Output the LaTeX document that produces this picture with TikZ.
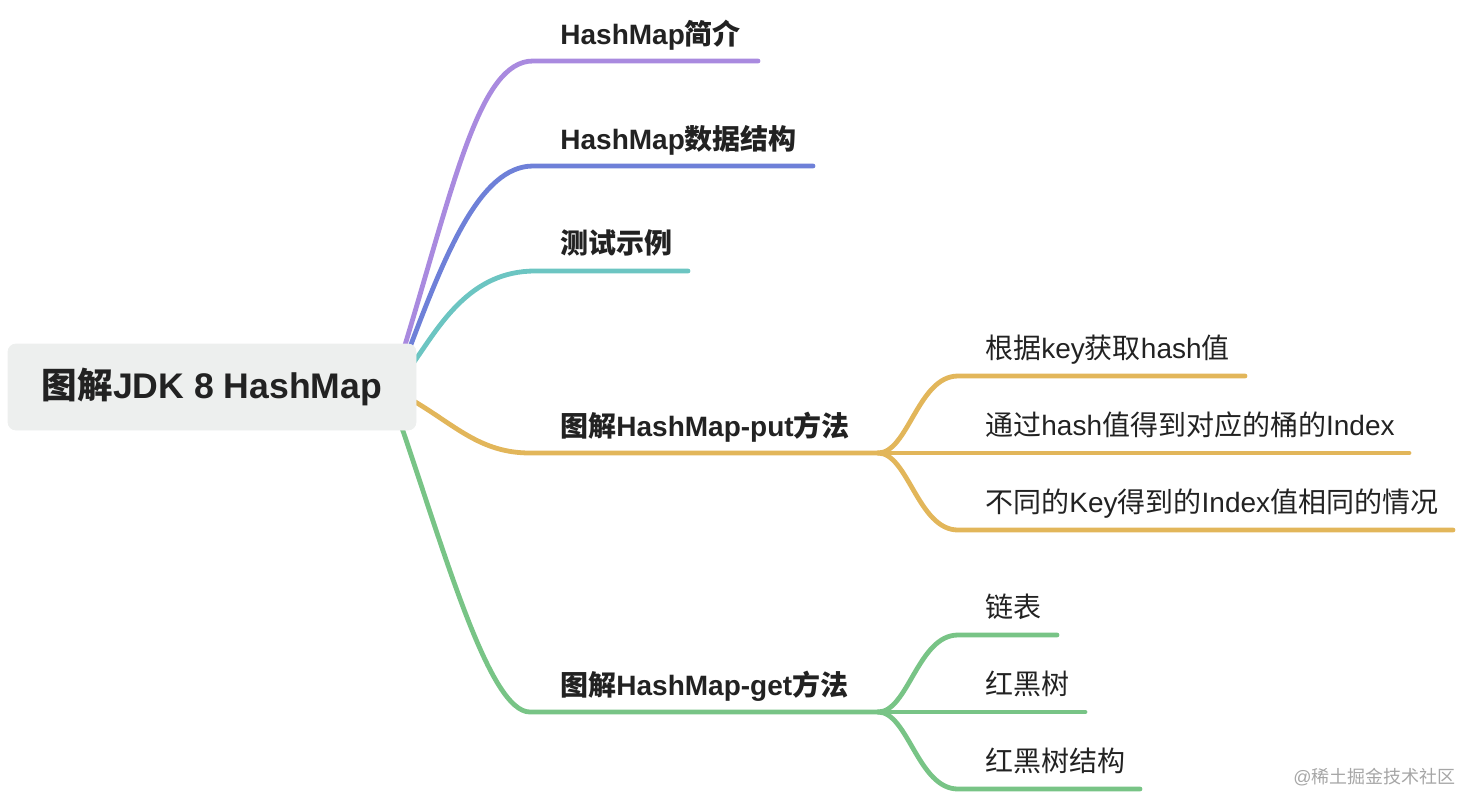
\documentclass[tikz,border=0pt]{standalone}
\usepackage{fontspec}
\setmainfont{Liberation Sans}
\newfontfamily\cjk{Noto Sans CJK SC}
\usepackage{tikz}
\usetikzlibrary{positioning}
\definecolor{lilac}{HTML}{A98ADF}
\definecolor{indigo}{HTML}{6E80D8}
\definecolor{aqua}{HTML}{6CC5C2}
\definecolor{gold}{HTML}{E2B65A}
\definecolor{leaf}{HTML}{78C486}
\definecolor{ink}{HTML}{222222}
\definecolor{rootfill}{HTML}{EDEFEE}
\newcommand{\zh}[1]{{\cjk #1}}

\begin{document}
\begin{tikzpicture}[x=0.5pt,y=-0.5pt,
    branch/.style={line width=2.4pt, line cap=round},
    topic/.style={anchor=base west, inner sep=0pt, text=ink, font=\fontsize{14}{16}\selectfont\bfseries},
    subtopic/.style={anchor=base west, inner sep=0pt, text=ink, font=\fontsize{14}{16}\selectfont}]
    \useasboundingbox (0,0) rectangle (1460,794);

    \coordinate (r1) at (405,345);
    \coordinate (r2) at (410,347);
    \coordinate (r3) at (414,362);
    \coordinate (r4) at (412,400);
    \coordinate (r5) at (402,428);

    \coordinate (b1s) at (533,61);   \coordinate (b1e) at (758,61);
    \coordinate (b2s) at (533,166);  \coordinate (b2e) at (813,166);
    \coordinate (b3s) at (535,271);  \coordinate (b3e) at (688,271);
    \coordinate (b4s) at (530,453);  \coordinate (put) at (878,453);
    \coordinate (b5s) at (530,712);  \coordinate (get) at (878,712);

    \draw[branch, lilac] (r1) .. controls (455,180) and (480,61) .. (b1s) -- (b1e);
    \draw[branch, indigo] (r2) .. controls (445,255) and (480,166) .. (b2s) -- (b2e);
    \draw[branch, aqua] (r3) .. controls (440,325) and (470,271) .. (b3s) -- (b3e);
    \draw[branch, gold] (r4) .. controls (455,425) and (480,453) .. (b4s) -- (put);
    \draw[branch, leaf] (r5) .. controls (447,560) and (490,712) .. (b5s) -- (get);

    \coordinate (p1s) at (958,376); \coordinate (p1e) at (1245,376);
    \coordinate (p2e) at (1409,453);
    \coordinate (p3s) at (958,530); \coordinate (p3e) at (1453,530);
    \draw[branch, gold] (put) .. controls +(30,0) and +(-40,0) .. (p1s) -- (p1e);
    \draw[branch, gold] (put) -- (p2e);
    \draw[branch, gold] (put) .. controls +(30,0) and +(-40,0) .. (p3s) -- (p3e);

    \coordinate (g1s) at (958,635); \coordinate (g1e) at (1057,635);
    \coordinate (g2e) at (1085,712);
    \coordinate (g3s) at (958,789); \coordinate (g3e) at (1140,789);
    \draw[branch, leaf] (get) .. controls +(30,0) and +(-40,0) .. (g1s) -- (g1e);
    \draw[branch, leaf] (get) -- (g2e);
    \draw[branch, leaf] (get) .. controls +(30,0) and +(-40,0) .. (g3s) -- (g3e);

    \draw[rootfill, fill=rootfill, rounded corners=4pt] (8,344) rectangle (416,430);
    \node[text=ink, font=\fontsize{17.8}{20}\selectfont\bfseries] (root) at (212,387) {\zh{图解}JDK 8 HashMap};

    \node[topic] (intro) at (560,44) {HashMap\zh{简介}};
    \node[topic] (struct) at (560,149) {HashMap\zh{数据结构}};
    \node[topic] (demo) at (560,253) {\zh{测试示例}};
    \node[topic] (putm) at (560,436) {\zh{图解}HashMap-put\zh{方法}};
    \node[topic] (getm) at (560,695) {\zh{图解}HashMap-get\zh{方法}};

    \node[subtopic] (hashkey) at (985,358) {\zh{根据}key\zh{获取}hash\zh{值}};
    \node[subtopic] (bucket) at (985,435) {\zh{通过}hash\zh{值得到对应的桶的}Index};
    \node[subtopic] (clash) at (985,512) {\zh{不同的}Key\zh{得到的}Index\zh{值相同的情况}};

    \node[subtopic] (list) at (985,617) {\zh{链表}};
    \node[subtopic] (rbtree) at (985,694) {\zh{红黑树}};
    \node[subtopic] (rbstruct) at (985,771) {\zh{红黑树结构}};

    \node[anchor=base west, inner sep=0pt, text=black!35, font=\fontsize{9}{10}\selectfont] (mark) at (1293,783) {@\zh{稀土掘金技术社区}};
\end{tikzpicture}
\end{document}
